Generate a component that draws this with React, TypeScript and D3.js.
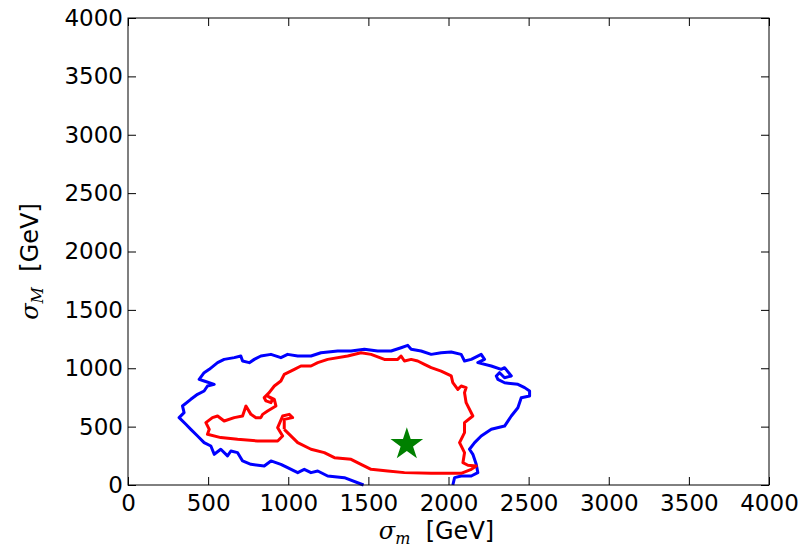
import { useEffect, useRef } from 'react';
import * as d3 from 'd3';

const ticks = [0, 500, 1000, 1500, 2000, 2500, 3000, 3500, 4000];

const blueX = [1470, 1350, 1246, 1184, 1142, 1100, 1059, 996, 954, 892, 850, 767, 715, 684, 642, 621, 579, 538, 517, 475, 434, 392, 361, 319, 350, 340, 392, 434, 475, 496, 538, 475, 444, 475, 507, 559, 600, 663, 704, 715, 757, 788, 829, 892, 954, 996, 1059, 1142, 1204, 1309, 1392, 1475, 1558, 1642, 1704, 1746, 1767, 1829, 1892, 1954, 2017, 2079, 2100, 2142, 2204, 2225, 2183, 2267, 2329, 2350, 2392, 2350, 2319, 2298, 2308, 2350, 2433, 2475, 2506, 2506, 2454, 2433, 2392, 2350, 2267, 2204, 2163, 2131, 2152, 2173, 2183, 2142, 2079, 2038, 2027];
const blueY = [0, 63, 77, 120, 106, 134, 106, 149, 177, 206, 163, 177, 206, 277, 291, 249, 306, 263, 334, 363, 420, 477, 520, 577, 620, 677, 734, 777, 805, 848, 862, 891, 905, 962, 991, 1048, 1076, 1091, 1105, 1062, 1048, 1076, 1105, 1119, 1091, 1119, 1105, 1105, 1133, 1148, 1148, 1162, 1148, 1148, 1176, 1196, 1162, 1148, 1119, 1133, 1139, 1119, 1062, 1076, 1119, 1076, 1048, 1019, 991, 1005, 934, 919, 962, 934, 905, 876, 862, 834, 805, 762, 748, 662, 591, 505, 477, 420, 363, 306, 263, 177, 106, 77, 77, 63, 0];

const redX = [975, 1059, 1142, 1225, 1288, 1392, 1454, 1517, 1621, 1725, 1892, 2079, 2142, 2173, 2121, 2090, 2100, 2069, 2100, 2100, 2152, 2110, 2100, 2110, 2079, 2058, 2027, 2017, 1954, 1892, 1850, 1808, 1767, 1725, 1704, 1683, 1600, 1517, 1454, 1371, 1246, 1184, 1142, 1079, 1038, 975, 954, 913, 881, 850, 861, 892, 902, 871, 913, 923, 871, 840, 829, 798, 767, 736, 715, 663, 600, 559, 527, 486, 507, 496, 579, 684, 809, 934, 965, 934, 965, 1006, 1027, 975, 975];
const redY = [477, 363, 306, 277, 234, 220, 177, 134, 120, 106, 100, 100, 134, 163, 169, 191, 277, 363, 448, 534, 591, 705, 791, 834, 848, 819, 876, 934, 976, 1005, 1033, 1062, 1076, 1062, 1105, 1076, 1076, 1119, 1133, 1105, 1076, 1048, 1019, 1019, 991, 948, 891, 848, 791, 748, 720, 705, 734, 762, 734, 677, 634, 605, 577, 577, 605, 677, 591, 577, 548, 591, 577, 534, 477, 434, 406, 391, 377, 377, 420, 491, 591, 605, 577, 562, 477];

const best = { x: 1740, y: 348 };

const W = 809, H = 549;
const m = { left: 128, right: 40, top: 18, bottom: 64 };

const App = () => {
  const ref = useRef<SVGSVGElement>(null);
  useEffect(() => {
    const svg = d3.select(ref.current);
    svg.selectAll('*').remove();
    const x = d3.scaleLinear().domain([0, 4000]).range([m.left, W - m.right]);
    const y = d3.scaleLinear().domain([0, 4000]).range([H - m.bottom, m.top]);
    const g = svg.append('g');

    const line = d3.line<[number, number]>().x((d) => x(d[0])).y((d) => y(d[1]));
    const draw = (xs: number[], ys: number[], c: string) =>
      g.append('path')
        .datum(xs.map((v, i) => [v, ys[i]] as [number, number]))
        .attr('fill', 'none').attr('stroke', c).attr('stroke-width', 3)
        .attr('stroke-linejoin', 'round').attr('d', line);
    draw(blueX, blueY, '#0000ff');
    draw(redX, redY, '#ff0000');

    g.append('path')
      .attr('d', d3.symbol(d3.symbolStar, 330)())
      .attr('transform', `translate(${x(best.x)},${y(best.y)})`)
      .attr('fill', '#008000');

    const font = 'DejaVu Sans, sans-serif';
    const axes = [
      d3.axisBottom(x).tickValues(ticks).tickSize(-8).tickPadding(6).tickFormat(d3.format('d')),
      d3.axisLeft(y).tickValues(ticks).tickSize(-8).tickPadding(5).tickFormat(d3.format('d')),
    ];
    const ax = g.append('g').attr('transform', `translate(0,${H - m.bottom})`).call(axes[0]);
    const ay = g.append('g').attr('transform', `translate(${m.left},0)`).call(axes[1]);
    g.append('g').attr('transform', `translate(0,${m.top})`)
      .call(d3.axisTop(x).tickValues(ticks).tickSize(-8).tickFormat(() => ''));
    g.append('g').attr('transform', `translate(${W - m.right},0)`)
      .call(d3.axisRight(y).tickValues(ticks).tickSize(-8).tickFormat(() => ''));
    g.selectAll('.domain').remove();
    g.selectAll('.tick line').attr('stroke', '#000');
    [ax, ay].forEach((a) => a.selectAll('text').attr('font-family', font).attr('font-size', 23).attr('fill', '#000'));
    ax.selectAll('text').attr('dy', '0.85em');

    g.append('rect').attr('x', m.left).attr('y', m.top)
      .attr('width', W - m.left - m.right).attr('height', H - m.top - m.bottom)
      .attr('fill', 'none').attr('stroke', '#000').attr('stroke-width', 1);

    const xl = g.append('text').attr('x', x(2000) - 12).attr('y', 539).attr('text-anchor', 'middle')
      .attr('font-family', font).attr('font-size', 24);
    xl.append('tspan').attr('font-family', 'DejaVu Serif, serif').attr('font-style', 'italic').text('σ');
    xl.append('tspan').attr('font-family', 'DejaVu Serif, serif').attr('font-style', 'italic').attr('font-size', 16).attr('dy', 5).text('m');
    xl.append('tspan').attr('dy', -5).text('\u00a0\u00a0[GeV]');

    const yl = g.append('text').attr('transform', `translate(38,${y(2000) + 10}) rotate(-90)`).attr('text-anchor', 'middle')
      .attr('font-family', font).attr('font-size', 24);
    yl.append('tspan').attr('font-family', 'DejaVu Serif, serif').attr('font-style', 'italic').text('σ');
    yl.append('tspan').attr('font-family', 'DejaVu Serif, serif').attr('font-style', 'italic').attr('font-size', 16).attr('dy', 5).text('M');
    yl.append('tspan').attr('dy', -5).text('\u00a0\u00a0[GeV]');
  }, []);
  return (
    <svg ref={ref} width={W} height={H} style={{ position: 'absolute', left: 0, top: 0, background: '#fff' }} />
  );
};

export default App;
